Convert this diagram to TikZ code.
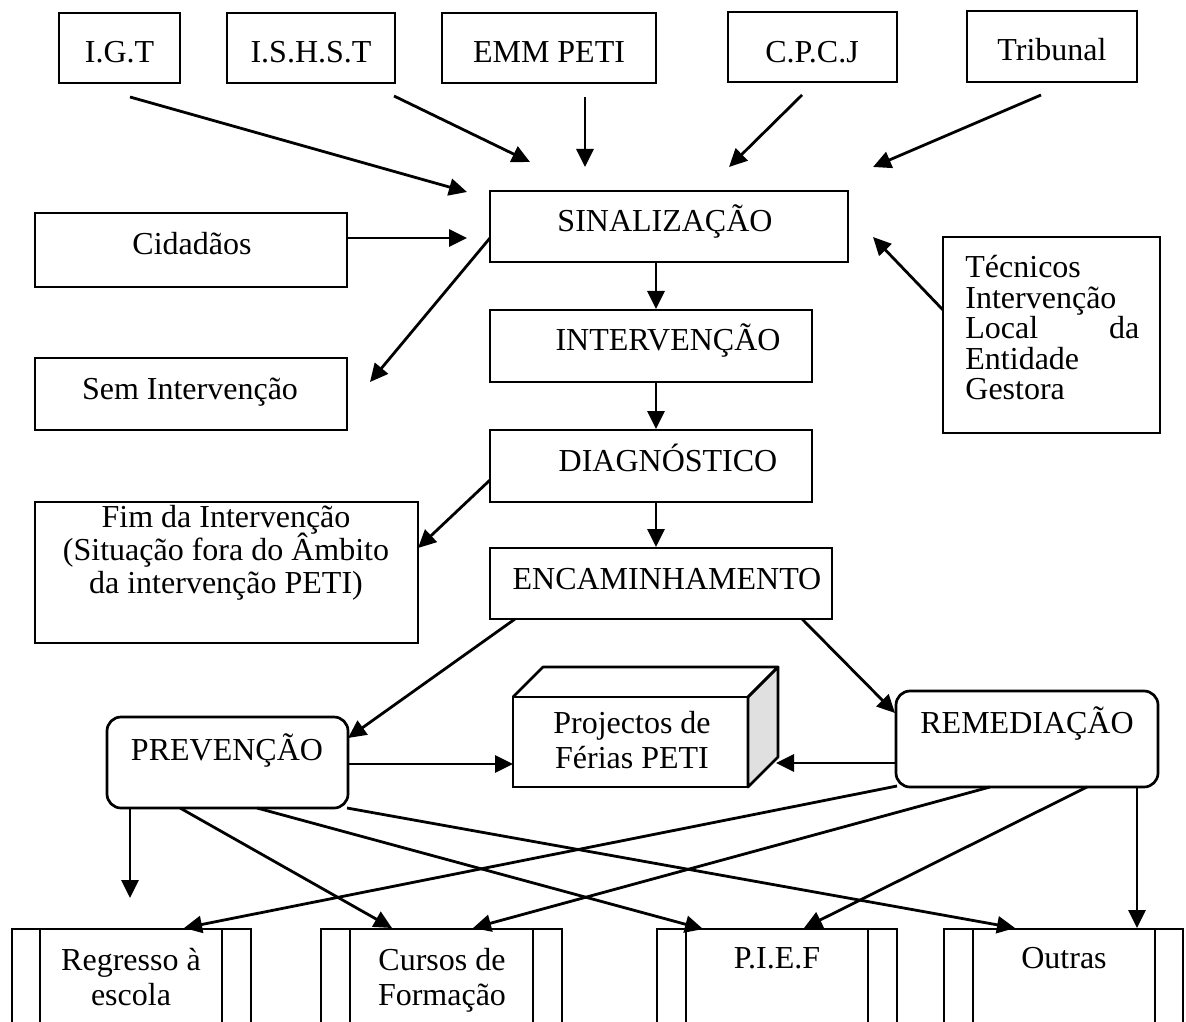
\documentclass[tikz,border=0pt]{standalone}
\usepackage{fontspec}
\setmainfont{Liberation Serif}
\usetikzlibrary{arrows.meta,fit}
\newcommand\mlines[3]{\parbox[t]{#1}{\lineskiplimit=-100pt\lineskip=0pt\fontsize{16}{#2}\selectfont\centering #3}}
\begin{document}
\begin{tikzpicture}[x=0.5pt,y=-0.5pt,
  box/.style={draw, line width=1.35pt, inner sep=0pt},
  rbox/.style={box, rounded corners=7pt},
  txt/.style={inner sep=0pt, anchor=base, font=\fontsize{16}{17}\selectfont},
  arr/.style={line width=1.4pt, -{Triangle[length=9pt,width=8.5pt]}},
  ln/.style={line width=1.35pt}]
\useasboundingbox (0,0) rectangle (1186,1021);
\clip (0,0) rectangle (1186,1021);

% top sources
\node[box, fit={(59,13)(180,83)}] (igt) {};
\node[txt] (igtT) at (119.5,63) {I.G.T};
\node[box, fit={(227,13)(395,83)}] (ishst) {};
\node[txt] (ishstT) at (311,63) {I.S.H.S.T};
\node[box, fit={(442,13)(656,83)}] (emm) {};
\node[txt] (emmT) at (549,63) {EMM PETI};
\node[box, fit={(728,12)(897,82)}] (cpcj) {};
\node[txt] (cpcjT) at (812,63) {C.P.C.J};
\node[box, fit={(967,11)(1137,82)}] (trib) {};
\node[txt] (tribT) at (1052,61) {Tribunal};

% main column
\node[box, fit={(490,191)(848,262)}] (sin) {};
\node[txt] (sinT) at (665,232) {SINALIZAÇÃO};
\node[box, fit={(490,310)(812,382)}] (int) {};
\node[txt] (intT) at (668,350) {INTERVENÇÃO};
\node[box, fit={(490,430)(812,502)}] (diag) {};
\node[txt] (diagT) at (668,471) {DIAGNÓSTICO};
\node[box, fit={(490,548)(832,619)}] (enc) {};
\node[txt] (encT) at (667,589) {ENCAMINHAMENTO};

% side boxes
\node[box, fit={(35,213)(347,287)}] (cid) {};
\node[txt] (cidT) at (192,255) {Cidadãos};
\node[box, fit={(35,358)(347,430)}] (sem) {};
\node[txt] (semT) at (190,399) {Sem Intervenção};
\node[box, fit={(35,502)(418,643)}] (fim) {};
\node[txt] (fimT) at (226,527) {\mlines{190pt}{16.5}{Fim da Intervenção\\(Situação fora do Âmbito\\da intervenção PETI)}};
\node[box, fit={(943,237)(1160,433)}] (tec) {};
\node[txt, anchor=base west] (tecT) at (965,278) {\parbox[t]{87pt}{\lineskiplimit=-100pt\lineskip=0pt\fontsize{16}{15.2}\selectfont\raggedright Técnicos\\Intervenção\\Local\hfill da\\Entidade\\Gestora}};

% second level
\node[rbox, fit={(107,717)(348,808)}] (prev) {};
\node[txt] (prevT) at (227,760) {PREVENÇÃO};
\node[rbox, fit={(896,691)(1158,787)}] (rem) {};
\node[txt] (remT) at (1027,733) {REMEDIAÇÃO};

% 3D box
\draw[ln, fill=black!12, line join=round] (748,697) -- ++(30,-30) -- ++(0,90) -- (748,787) -- cycle;
\draw[ln, line join=round] (513,697) -- ++(30,-30) -- ++(235,0) -- (748,697);
\node[box, fit={(513,697)(748,787)}] (proj) {};
\node[txt] (projT) at (632,733) {\mlines{110pt}{17.5}{Projectos de\\Férias PETI}};

% bottom boxes (predefined process)
\node[box, fit={(12,929)(251,1040)}] (reg) {};
\draw[ln] (40,929) -- (40,1040) (222,929) -- (222,1040);
\node[txt] (regT) at (131,970) {\mlines{110pt}{17.5}{Regresso à\\escola}};
\node[box, fit={(321,929)(562,1040)}] (cur) {};
\draw[ln] (350,929) -- (350,1040) (533,929) -- (533,1040);
\node[txt] (curT) at (442,970) {\mlines{110pt}{17.5}{Cursos de\\Formação}};
\node[box, fit={(657,929)(897,1040)}] (pief) {};
\draw[ln] (686,929) -- (686,1040) (868,929) -- (868,1040);
\node[txt] (piefT) at (777,968) {P.I.E.F};
\node[box, fit={(944,929)(1183,1040)}] (out) {};
\draw[ln] (973,929) -- (973,1040) (1155,929) -- (1155,1040);
\node[txt] (outT) at (1064,968) {Outras};

% arrow end points
\coordinate (igtA) at (130,97);   \coordinate (igtB) at (467,192);
\coordinate (ishA) at (394,96);   \coordinate (ishB) at (530,162);
\coordinate (emmA) at (585,97);   \coordinate (emmB) at (585,167);
\coordinate (cpcA) at (802,95);   \coordinate (cpcB) at (729,167);
\coordinate (triA) at (1041,95);  \coordinate (triB) at (873,167);
\coordinate (cidA) at (347,238);  \coordinate (cidB) at (467,238);
\coordinate (tecA) at (943,310);  \coordinate (tecB) at (873,237);
\coordinate (semA) at (490,238);  \coordinate (semB) at (370,382);
\coordinate (s2iA) at (656,263);  \coordinate (s2iB) at (656,309);
\coordinate (i2dA) at (656,382);  \coordinate (i2dB) at (656,429);
\coordinate (fimA) at (490,480);  \coordinate (fimB) at (418,548);
\coordinate (d2eA) at (656,502);  \coordinate (d2eB) at (656,547);
\coordinate (e2pA) at (515,619);  \coordinate (e2pB) at (348,738);
\coordinate (e2rA) at (802,619);  \coordinate (e2rB) at (895,713);
\coordinate (p2jA) at (348,764);  \coordinate (p2jB) at (513,764);
\coordinate (r2jA) at (896,763);  \coordinate (r2jB) at (776,763);
\coordinate (p1A) at (130,808);   \coordinate (p1B) at (130,898);
\coordinate (p2A) at (180,808);   \coordinate (p2B) at (392,928);
\coordinate (p3A) at (257,808);   \coordinate (p3B) at (703,929);
\coordinate (p4A) at (347,808);   \coordinate (p4B) at (1015,928);
\coordinate (r1A) at (897,786);   \coordinate (r1B) at (184,928);
\coordinate (r2A) at (990,787);   \coordinate (r2B) at (473,928);
\coordinate (r3A) at (1087,787);  \coordinate (r3B) at (804,928);
\coordinate (r4A) at (1137,787);  \coordinate (r4B) at (1137,928);

\foreach \a in {igt,ish,emm,cpc,tri,cid,tec,sem,s2i,i2d,fim,d2e,e2p,e2r,p2j,r2j,p1,p2,p3,p4,r1,r2,r3,r4}
  \draw[arr] (\a A) -- (\a B);
\end{tikzpicture}
\end{document}
